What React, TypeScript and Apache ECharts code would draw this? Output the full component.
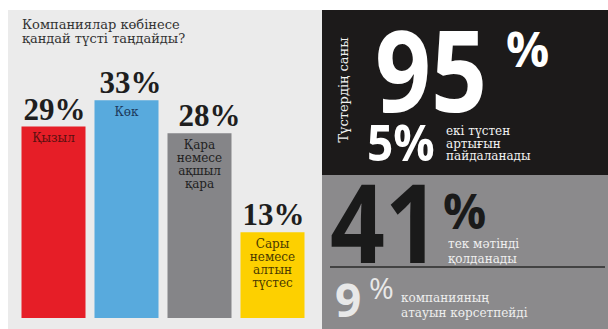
import React, { useEffect, useRef } from "react";
import * as echarts from "echarts";

const categories = ["Қызыл", "Көк", "Қара немесе ақшыл қара", "Сары немесе алтын түстес"];
const values = [29, 33, 28, 13];
const innerLabels = ["Қызыл", "Көк", "Қара\nнемесе\nақшыл\nқара", "Сары\nнемесе\nалтын\nтүстес"];
const barColors = ["#e61e27", "#58aadd", "#858588", "#fdd000"];
const innerLabelColors = ["#5a1010", "#1d3a5c", "#222222", "#4a3a00"];
const valueLabelOffsets = [[1, 0], [4, 0], [10, 0], [1, 0]];

const titleText = "Компаниялар көбінесе\nқандай түсті таңдайды?";
const sideTitle = "Түстердің саны";
const stat95 = "95";
const stat5 = "5";
const stat5Text = "екі түстен\nартығын\nпайдаланады";
const stat41 = "41";
const stat41Text = "тек мәтінді\nқолданады";
const stat9 = "9";
const stat9Text = "компанияның\nатауын көрсетпейді";

const SERIF = "'DejaVu Serif', serif";
const SERIF_BOLD = "'Liberation Serif', serif";
const SANS = "'Open Sans', sans-serif";

export default function App() {
  const ref = useRef<HTMLDivElement>(null);
  useEffect(() => {
    document.body.style.margin = "0";
    const chart = echarts.init(ref.current!, null, { renderer: "svg" });
    const option: any = {
      animation: false,
      backgroundColor: "#ffffff",
      grid: { left: 17, right: 299, top: 54, bottom: 11 },
      xAxis: {
        type: "category",
        data: categories,
        show: false,
      },
      yAxis: { type: "value", min: 0, max: 40, show: false },
      graphic: [
        { type: "rect", z: -10, shape: { x: 8, y: 10, width: 314, height: 319 }, style: { fill: "#ebebeb" } },
        { type: "rect", z: -10, shape: { x: 322, y: 10, width: 286, height: 165 }, style: { fill: "#1c1a1a" } },
        { type: "rect", z: -10, shape: { x: 322, y: 175, width: 286, height: 154 }, style: { fill: "#8b8a8c" } },
        {
          type: "text", x: 22, y: 17,
          style: { text: titleText, x: 0, y: 0, fill: "#333333", font: `13px ${SERIF}`, lineHeight: 14, align: "left", verticalAlign: "top" },
        },
        {
          type: "text", x: 343, y: 90, rotation: Math.PI / 2,
          style: { text: sideTitle, x: 0, y: 0, fill: "#f2f2f2", font: `13px ${SERIF}`, align: "center", verticalAlign: "middle" },
        },
        {
          type: "text", x: 375, y: 68, scaleY: 1.16,
          style: { text: stat95, x: 0, y: 0, fill: "#ffffff", font: `bold 98px ${SANS}`, lineHeight: 72, align: "left", verticalAlign: "middle" },
        },
        {
          type: "text", x: 506, y: 48,
          style: { text: "%", x: 0, y: 0, fill: "#ffffff", font: `bold 48px ${SANS}`, lineHeight: 38, align: "left", verticalAlign: "middle" },
        },
        {
          type: "text", x: 367, y: 142, scaleY: 1.09,
          style: { text: stat5 + "%", x: 0, y: 0, fill: "#ffffff", font: `bold 46px ${SANS}`, lineHeight: 36, align: "left", verticalAlign: "middle" },
        },
        {
          type: "text", x: 446, y: 125,
          style: { text: stat5Text, x: 0, y: 0, fill: "#f2f2f2", font: `12px ${SERIF}`, lineHeight: 12.5, align: "left", verticalAlign: "top" },
        },
        {
          type: "text", x: 330, y: 220, scaleY: 1.14,
          style: { text: stat41, x: 0, y: 0, fill: "#1a1a1a", font: `bold 96px ${SANS}`, lineHeight: 70, align: "left", verticalAlign: "middle" },
        },
        {
          type: "text", x: 443, y: 210,
          style: { text: "%", x: 0, y: 0, fill: "#1a1a1a", font: `bold 48px ${SANS}`, lineHeight: 36, align: "left", verticalAlign: "middle" },
        },
        {
          type: "text", x: 448, y: 236,
          style: { text: stat41Text, x: 0, y: 0, fill: "#f0f0f0", font: `12px ${SERIF}`, lineHeight: 15, align: "left", verticalAlign: "top" },
        },
        {
          type: "line", shape: { x1: 330, y1: 267, x2: 605, y2: 267 },
          style: { stroke: "#2a2a2a", lineWidth: 1.5 },
        },
        {
          type: "text", x: 335, y: 299,
          style: { text: stat9, x: 0, y: 0, fill: "#e8e8e8", font: `bold 46px ${SANS}`, lineHeight: 36, align: "left", verticalAlign: "middle" },
        },
        {
          type: "text", x: 369, y: 287,
          style: { text: "%", x: 0, y: 0, fill: "#e8e8e8", font: `30px ${SANS}`, lineHeight: 24, align: "left", verticalAlign: "middle" },
        },
        {
          type: "text", x: 401, y: 290,
          style: { text: stat9Text, x: 0, y: 0, fill: "#eeeeee", font: `12px ${SERIF}`, lineHeight: 15, align: "left", verticalAlign: "top" },
        },
      ],
      series: [
        {
          type: "bar",
          barWidth: 64,
          data: values.map((v, i) => ({
            value: v,
            itemStyle: { color: barColors[i] },
            label: { offset: valueLabelOffsets[i] },
          })),
          label: {
            show: true,
            position: "top",
            distance: 2,
            formatter: "{c}%",
            fontFamily: SERIF_BOLD,
            fontWeight: "bold",
            fontSize: 31,
            color: "#1e1e1e",
          },
        },
        {
          type: "bar",
          barWidth: 64,
          barGap: "-100%",
          z: 3,
          data: values.map((v, i) => ({
            value: v,
            itemStyle: { color: "rgba(0,0,0,0)" },
            label: { color: innerLabelColors[i], formatter: innerLabels[i] },
          })),
          label: {
            show: true,
            position: "insideTop",
            distance: 5,
            fontFamily: SERIF,
            fontSize: 12,
            lineHeight: 13,
            align: "center",
          },
        },
      ],
    };
    chart.setOption(option);
    return () => chart.dispose();
  }, []);
  return <div ref={ref} style={{ position: "fixed", left: 0, top: 0, width: 608, height: 329 }} />;
}
